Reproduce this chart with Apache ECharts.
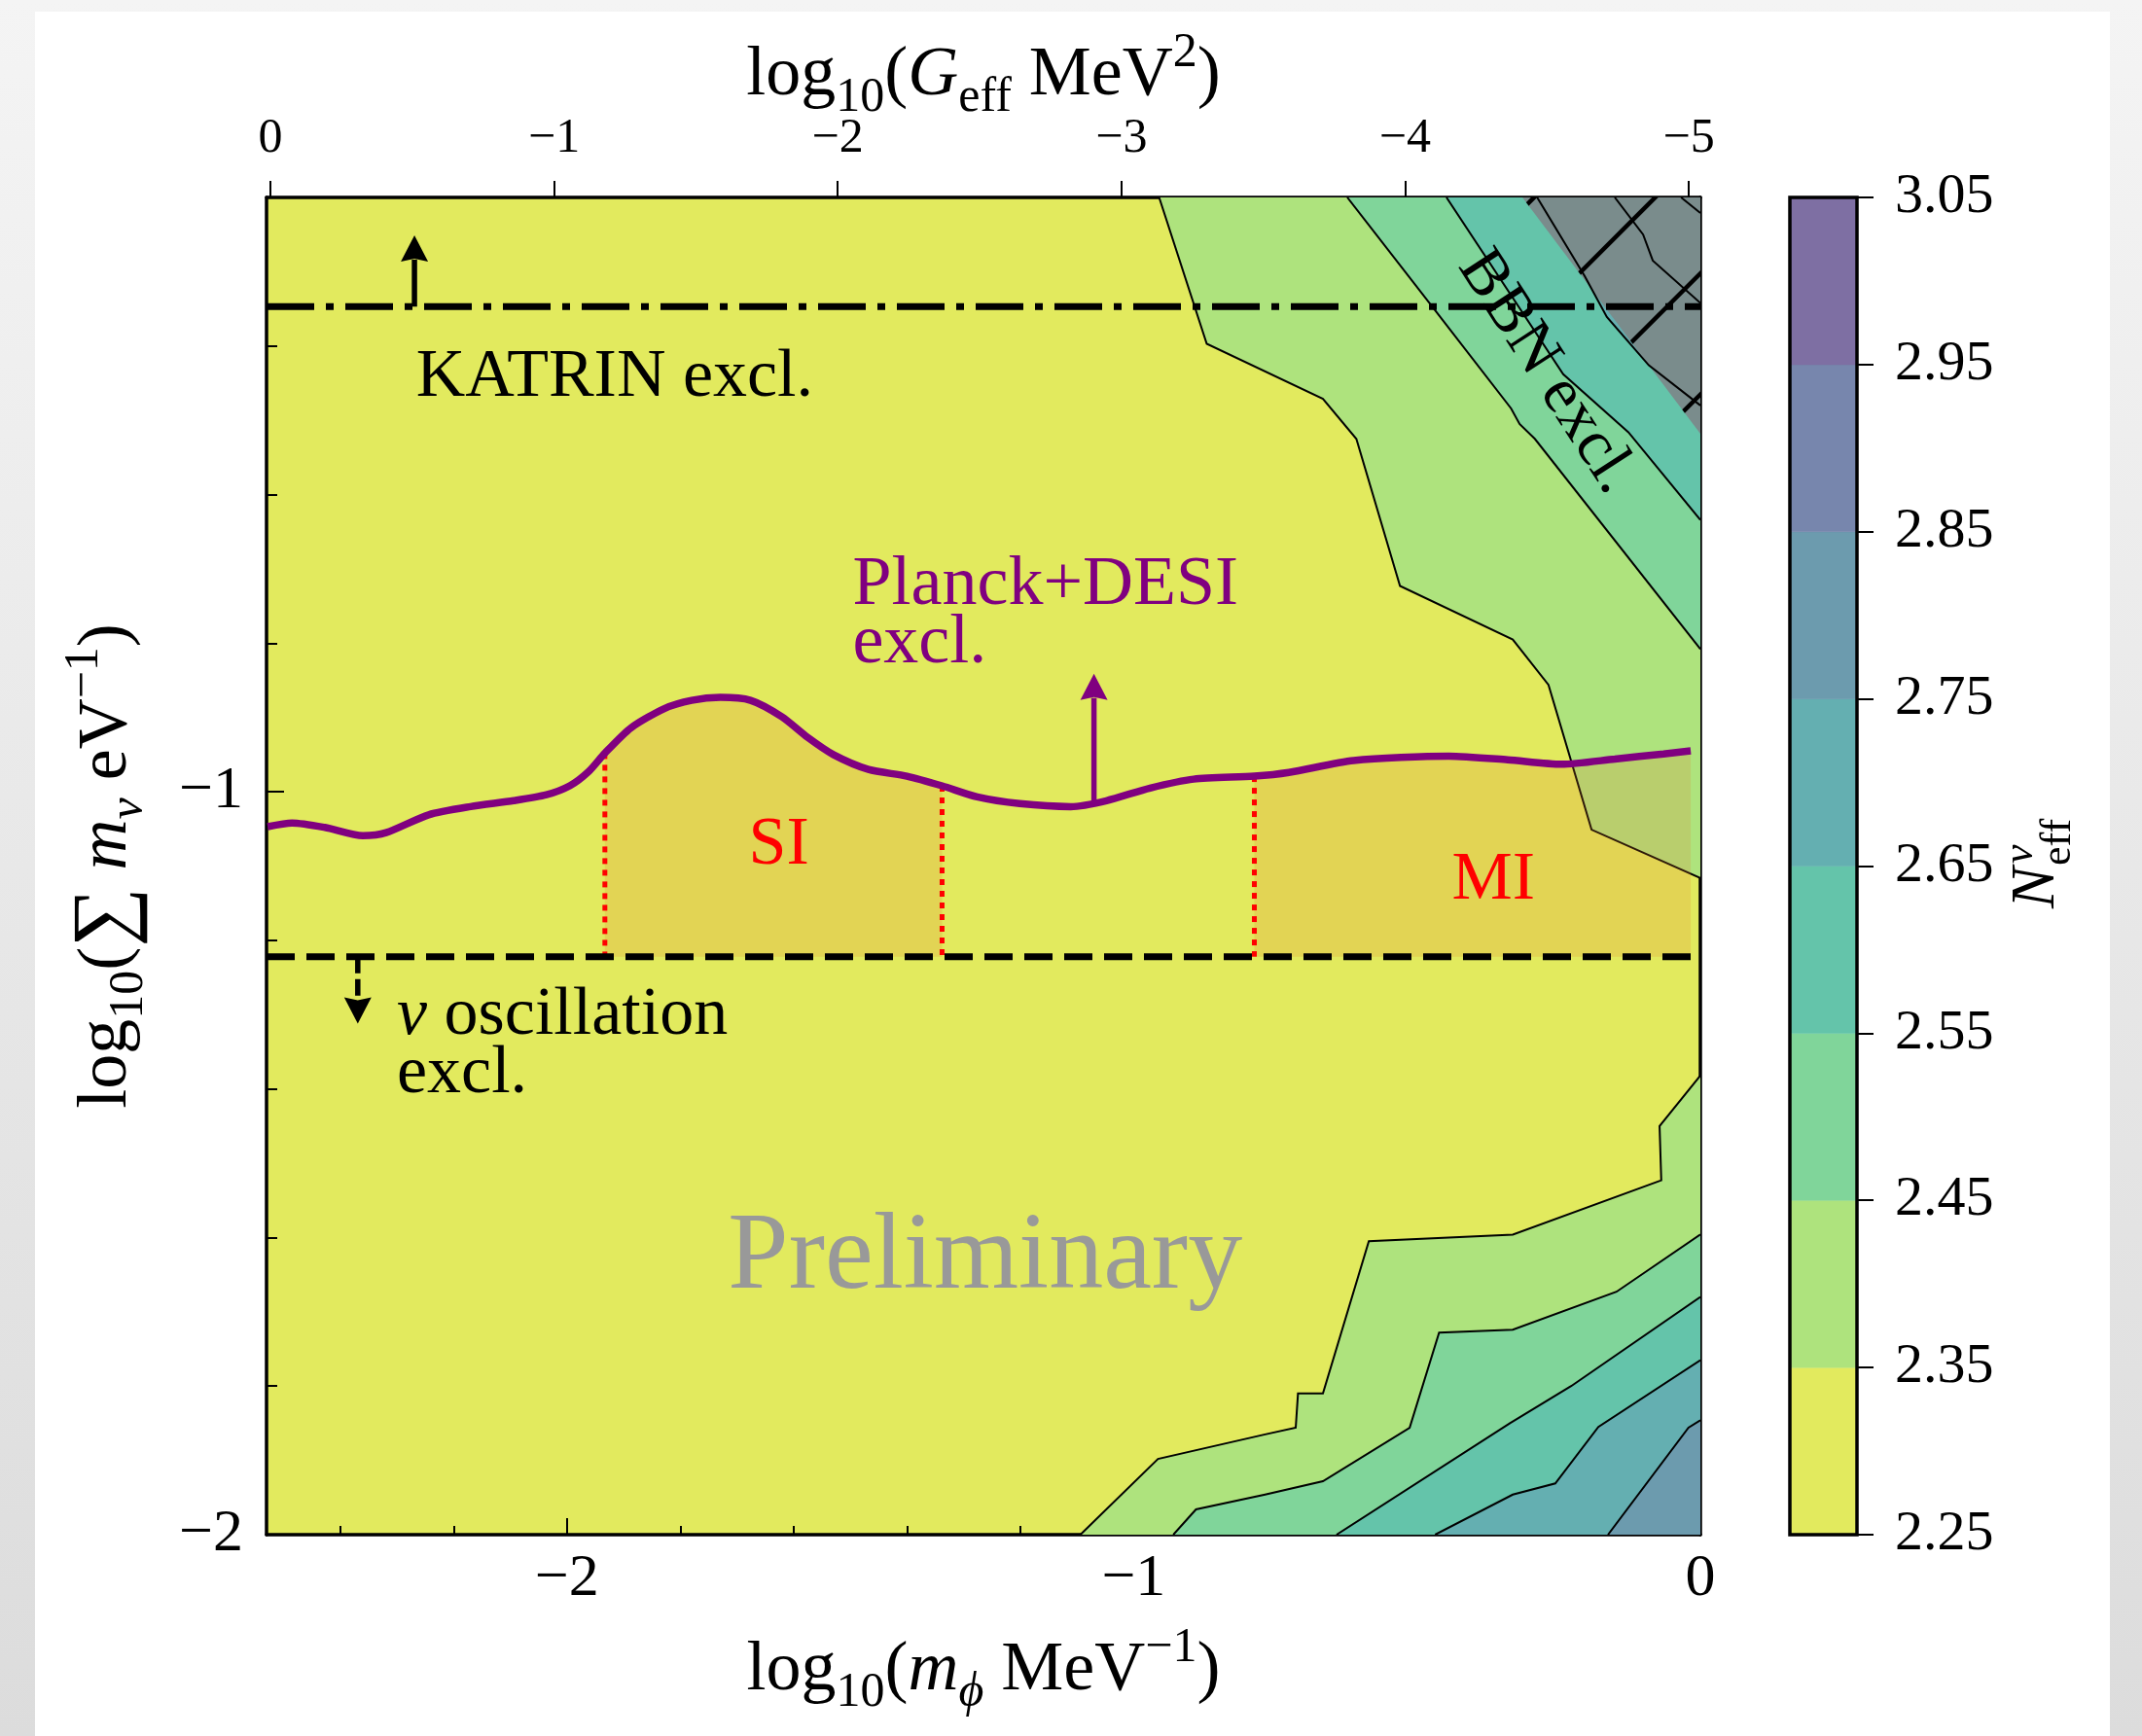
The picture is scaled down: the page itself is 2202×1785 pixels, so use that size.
<!DOCTYPE html>
<html><head><meta charset="utf-8">
<script src="https://cdn.jsdelivr.net/npm/echarts@6/dist/echarts.min.js"></script>
<style>
html,body{margin:0;padding:0;}
body{width:2202px;height:1785px;background:linear-gradient(#f4f4f4,#dcdcdc);position:relative;overflow:hidden;}
#card{position:absolute;left:36px;top:12px;width:2133px;height:1773px;background:#fff;}
#c{position:absolute;left:0;top:0;width:2202px;height:1785px;}
</style>
</head><body><div id="card"></div><div id="c"></div>
<script>
// ---------- axis ranges & ticks ----------
const xRange = [-2.53, 0];          // log10(m_phi / MeV)
const yRange = [-2, -0.2];          // log10(sum m_nu / eV)
const gRange = [-5.041, 0.0137];    // log10(G_eff MeV^2), top axis
const xMajorTicks = [-2, -1, 0];
const xMinorTicks = [-2.4, -2.2, -1.8, -1.6, -1.4, -1.2, -0.8, -0.6, -0.4, -0.2];
const yMajorTicks = [-2, -1];
const yMinorTicks = [-1.8, -1.6, -1.4, -1.2, -0.8, -0.6, -0.4];
const gTicks = [0, -1, -2, -3, -4, -5];
const levelBounds = [2.25, 2.35, 2.45, 2.55, 2.65, 2.75, 2.85, 2.95, 3.05];
const levelColors = ['#e2ea5e', '#aee37d', '#80d59a', '#64c4aa', '#64afb1', '#6c9bae', '#7786ad', '#7e6fa3'];

// ---------- contour boundaries [log10 m_phi, log10 sum m_nu] ----------
const topA = [[-0.955,-0.2],[-0.871,-0.397],[-0.666,-0.471],[-0.607,-0.525],[-0.530,-0.723],[-0.331,-0.795],[-0.268,-0.856],[-0.192,-1.051],[0,-1.116]];
const topB = [[-0.623,-0.2],[-0.468,-0.352],[-0.334,-0.484],[-0.319,-0.505],[-0.292,-0.525],[0,-0.808]];
const topC = [[-0.448,-0.2],[-0.242,-0.438],[-0.127,-0.516],[0,-0.634]];
const topD = [[-0.288,-0.2],[-0.204,-0.306],[-0.165,-0.361],[-0.091,-0.426],[0,-0.480]];
const topE = [[-0.151,-0.2],[-0.101,-0.250],[-0.084,-0.285],[0,-0.342]];
const topF = [[-0.034,-0.2],[0,-0.221]];
const botA = [[-1.094,-2],[-0.957,-1.898],[-0.768,-1.865],[-0.714,-1.856],[-0.710,-1.810],[-0.666,-1.810],[-0.585,-1.605],[-0.331,-1.596],[-0.069,-1.523],[-0.072,-1.450],[0,-1.382]];
const botB = [[-0.930,-2],[-0.890,-1.966],[-0.768,-1.946],[-0.666,-1.928],[-0.513,-1.856],[-0.461,-1.728],[-0.331,-1.724],[-0.148,-1.673],[0,-1.596]];
const botC = [[-0.642,-2],[-0.336,-1.850],[-0.228,-1.800],[0,-1.680]];
const botD = [[-0.468,-2],[-0.331,-1.946],[-0.256,-1.931],[-0.180,-1.855],[0,-1.765]];
const botE = [[-0.163,-2],[-0.021,-1.856],[0,-1.846]];
const bbnEdge = [[-0.314,-0.2],[0,-0.518]];

// ---------- limits ----------
const katrinY = -0.347;
const oscY = -1.222;
const planck = [[-2.528,-1.047],[-2.485,-1.042],[-2.427,-1.048],[-2.360,-1.059],[-2.319,-1.055],[-2.244,-1.031],[-2.170,-1.020],[-2.094,-1.012],[-2.036,-1.004],[-1.995,-0.992],[-1.962,-0.973],[-1.933,-0.948],[-1.887,-0.914],[-1.828,-0.888],[-1.780,-0.877],[-1.729,-0.873],[-1.676,-0.877],[-1.621,-0.899],[-1.575,-0.927],[-1.530,-0.950],[-1.468,-0.970],[-1.400,-0.979],[-1.338,-0.992],[-1.276,-1.007],[-1.201,-1.016],[-1.111,-1.020],[-1.048,-1.012],[-0.971,-0.995],[-0.894,-0.983],[-0.787,-0.979],[-0.726,-0.974],[-0.612,-0.958],[-0.444,-0.952],[-0.340,-0.957],[-0.245,-0.963],[-0.151,-0.956],[-0.065,-0.949],[-0.017,-0.945]];
const siRange = [-1.933, -1.338];
const miRange = [-0.787, -0.017];
const arrowX = [-2.269, -2.369, -1.070];
const arrowFrom = [-0.347, -1.222, -1.012];
const arrowTo = [-0.251, -1.312, -0.841];

// ---------- annotations ----------
const annText = ['KATRIN excl.', '{i|ν} oscillation', 'excl.', 'Planck+DESI', 'excl.', 'SI', 'MI', 'Preliminary', 'BBN excl.'];
const annX = [-2.266, -2.300, -2.300, -1.496, -1.496, -1.626, -0.365, -1.262, -0.271];
const annY = [-0.443, -1.302, -1.380, -0.723, -0.801, -1.073, -1.120, -1.629, -0.435];

// ---------- build ----------
const FF = '"Liberation Serif","DejaVu Serif",serif';
const annStyle = [
  {c:'#000', s:70, a:'left', r:0}, {c:'#000', s:70, a:'left', r:0}, {c:'#000', s:70, a:'left', r:0},
  {c:'#800080', s:72, a:'left', r:0}, {c:'#800080', s:72, a:'left', r:0},
  {c:'#ff0000', s:70, a:'center', r:0}, {c:'#ff0000', s:70, a:'center', r:0},
  {c:'#999999', s:112, a:'center', r:0}, {c:'#000', s:67, a:'center', r:-57*Math.PI/180}
];
const cornerTop = [xRange[1], yRange[1]];
const cornerBot = [xRange[1], yRange[0]];
const contourParts = [
  {lv:1, pts:topA, c:cornerTop}, {lv:1, pts:botA, c:cornerBot},
  {lv:2, pts:topB, c:cornerTop}, {lv:2, pts:botB, c:cornerBot},
  {lv:3, pts:topC, c:cornerTop}, {lv:3, pts:botC, c:cornerBot},
  {lv:4, pts:topD, c:cornerTop}, {lv:4, pts:botD, c:cornerBot},
  {lv:5, pts:topE, c:cornerTop}, {lv:5, pts:botE, c:cornerBot},
  {lv:6, pts:topF, c:cornerTop}
];
function bandPoly(r) {
  const pts = planck.filter(p => p[0] >= r[0] - 1e-9 && p[0] <= r[1] + 1e-9);
  return pts.concat([[r[1], oscY], [r[0], oscY]]);
}
const bands = [bandPoly(siRange), bandPoly(miRange)];
const dotX = [siRange[0], siRange[1], miRange[0]];
const yAt = x => planck.find(p => Math.abs(p[0] - x) < 1e-9)[1];
const fmt = v => (v < 0 ? '\u2212' + String(Math.abs(v)) : String(v));

const nameRich = {
  r: {fontSize: 72, fontFamily: FF, lineHeight: 96, color: '#000'},
  big: {fontSize: 86, fontFamily: FF, lineHeight: 96, color: '#000'},
  i: {fontSize: 72, fontFamily: FF, fontStyle: 'italic', lineHeight: 96, color: '#000'},
  sub: {fontSize: 50, fontFamily: FF, lineHeight: 50, verticalAlign: 'bottom', color: '#000'},
  isub: {fontSize: 50, fontFamily: FF, fontStyle: 'italic', lineHeight: 50, verticalAlign: 'bottom', color: '#000'},
  sup: {fontSize: 50, fontFamily: FF, lineHeight: 50, verticalAlign: 'top', color: '#000'}
};
const annRich = {i: {fontStyle: 'italic', fontSize: 70, fontFamily: FF, fill: '#000'}};

const axLine = {show: true, onZero: false, lineStyle: {color: '#000', width: 3.5}};
const noLine = {show: false, onZero: false};

const option = {
  animation: false,
  textStyle: {fontFamily: FF},
  grid: [
    {left: 274, top: 203, width: 1474, height: 1375, show: true, backgroundColor: levelColors[0], borderWidth: 0},
    {left: 1840, top: 203, width: 69, height: 1375, show: false}
  ],
  xAxis: [
    {type: 'value', gridIndex: 0, position: 'bottom', min: xRange[0], max: xRange[1],
     axisLine: axLine, splitLine: {show: false},
     axisTick: {show: true, inside: true, length: 17, customValues: xMajorTicks, lineStyle: {color: '#000', width: 2}},
     axisLabel: {show: true, customValues: xMajorTicks, formatter: fmt, fontSize: 62, color: '#000', margin: 15, fontFamily: FF},
     name: '{r|log}{sub|10}{r|(}{i|m}{isub|ϕ}{r| MeV}{sup|\u22121}{r|)}', nameLocation: 'middle', nameGap: 92, nameMoveOverlap: false,
     nameTextStyle: {rich: nameRich}},
    {type: 'value', gridIndex: 0, position: 'bottom', min: xRange[0], max: xRange[1],
     axisLine: noLine, splitLine: {show: false}, axisLabel: {show: false},
     axisTick: {show: true, inside: true, length: 9, customValues: xMinorTicks, lineStyle: {color: '#000', width: 2}}},
    {type: 'value', gridIndex: 0, position: 'top', min: gRange[0], max: gRange[1], inverse: true,
     axisLine: axLine, splitLine: {show: false},
     axisTick: {show: true, inside: false, length: 17, customValues: gTicks, lineStyle: {color: '#000', width: 2}},
     axisLabel: {show: true, customValues: gTicks, formatter: fmt, fontSize: 50, color: '#000', margin: 35, fontFamily: FF},
     name: '{r|log}{sub|10}{r|(}{i|G}{sub|eff}{r| MeV}{sup|2}{r|)}', nameLocation: 'middle', nameGap: 77, nameMoveOverlap: false,
     nameTextStyle: {rich: nameRich}},
    {type: 'value', gridIndex: 1, min: 0, max: 1, show: false}
  ],
  yAxis: [
    {type: 'value', gridIndex: 0, position: 'left', min: yRange[0], max: yRange[1],
     axisLine: axLine, splitLine: {show: false},
     axisTick: {show: true, inside: true, length: 18, customValues: yMajorTicks, lineStyle: {color: '#000', width: 2}},
     axisLabel: {show: true, customValues: yMajorTicks, formatter: fmt, fontSize: 62, color: '#000', margin: 24, fontFamily: FF},
     name: '{r|log}{sub|10}{r|(}{big|∑}{r| }{i|m}{isub|ν}{r| eV}{sup|\u22121}{r|)}', nameLocation: 'middle', nameGap: 116, nameRotate: 90, nameMoveOverlap: false,
     nameTextStyle: {rich: nameRich}},
    {type: 'value', gridIndex: 0, position: 'left', min: yRange[0], max: yRange[1],
     axisLine: noLine, splitLine: {show: false}, axisLabel: {show: false},
     axisTick: {show: true, inside: true, length: 11, customValues: yMinorTicks, lineStyle: {color: '#000', width: 2}}},
    {type: 'value', gridIndex: 0, position: 'right', min: yRange[0], max: yRange[1],
     axisLine: axLine, splitLine: {show: false}, axisLabel: {show: false}, axisTick: {show: false}},
    {type: 'value', gridIndex: 1, position: 'right', min: levelBounds[0], max: levelBounds[levelBounds.length - 1],
     axisLine: noLine, splitLine: {show: false},
     axisTick: {show: true, inside: false, length: 17, customValues: levelBounds, lineStyle: {color: '#000', width: 2}},
     axisLabel: {show: true, customValues: levelBounds, formatter: v => v.toFixed(2), fontSize: 58, color: '#000', margin: 39, fontFamily: FF}}
  ],
  graphic: [{
    type: 'group', x: 2094, y: 934, rotation: Math.PI / 2,
    children: [
      {type: 'text', x: 0, y: 0, style: {text: 'N', font: 'italic 64px ' + FF, fill: '#000', align: 'left', verticalAlign: 'middle'}},
      {type: 'text', x: 46, y: -17, style: {text: 'ν', font: 'italic 44px ' + FF, fill: '#000', align: 'left', verticalAlign: 'middle'}},
      {type: 'text', x: 44, y: 22, style: {text: 'eff', font: '44px ' + FF, fill: '#000', align: 'left', verticalAlign: 'middle'}}
    ]
  }],
  series: [
    { // contour fills
      type: 'custom', xAxisIndex: 0, yAxisIndex: 0, clip: true,
      data: contourParts.map(c => c.pts[0]),
      renderItem: (params, api) => {
        const c = contourParts[params.dataIndex];
        const pts = c.pts.concat([c.c]).map(p => api.coord(p));
        return {type: 'polygon', shape: {points: pts}, style: {fill: levelColors[c.lv], stroke: levelColors[c.lv], lineWidth: 0.5}};
      }
    },
    { // BBN exclusion grey
      type: 'custom', xAxisIndex: 0, yAxisIndex: 0, clip: true,
      data: [bbnEdge[0]],
      renderItem: (params, api) => {
        const pts = [bbnEdge[0], bbnEdge[1], cornerTop].map(p => api.coord(p));
        return {type: 'polygon', shape: {points: pts}, style: {fill: '#7a8c8c'}};
      }
    },
    { // contour lines
      type: 'custom', xAxisIndex: 0, yAxisIndex: 0, clip: true,
      data: contourParts.map(c => c.pts[0]),
      renderItem: (params, api) => {
        const c = contourParts[params.dataIndex];
        return {type: 'polyline', shape: {points: c.pts.map(p => api.coord(p))}, style: {stroke: '#000', lineWidth: 2, fill: 'none'}};
      }
    },
    { // BBN hatch
      type: 'custom', xAxisIndex: 0, yAxisIndex: 0, clip: true,
      data: [bbnEdge[0]],
      renderItem: (params, api) => {
        const pts = [bbnEdge[0], bbnEdge[1], cornerTop].map(p => api.coord(p));
        const xs = pts.map(p => p[0]);
        const x0 = Math.min(...xs) - 20, x1 = Math.max(...xs) + 20;
        const c0 = pts[0][0] + pts[0][1] + 12;
        const lines = [];
        for (let k = 0; k < 8; k++) {
          const c = c0 + k * 124.5;
          lines.push({type: 'line', shape: {x1: x0, y1: c - x0, x2: x1, y2: c - x1}, style: {stroke: '#000', lineWidth: 4.5}});
        }
        return {type: 'group', clipPath: {type: 'polygon', shape: {points: pts}}, children: lines};
      }
    },
    { // SI / MI bands
      type: 'custom', xAxisIndex: 0, yAxisIndex: 0, clip: true,
      data: bands.map(b => b[0]),
      renderItem: (params, api) => ({type: 'polygon', shape: {points: bands[params.dataIndex].map(p => api.coord(p))}, style: {fill: 'rgba(232,124,45,0.2)'}})
    },
    { // red dotted boundaries
      type: 'custom', xAxisIndex: 0, yAxisIndex: 0, clip: true,
      data: dotX.map(x => [x, oscY]),
      renderItem: (params, api) => {
        const x = dotX[params.dataIndex];
        const a = api.coord([x, yAt(x)]), b = api.coord([x, oscY]);
        return {type: 'line', shape: {x1: a[0], y1: a[1], x2: b[0], y2: b[1]}, style: {stroke: '#ff0000', lineWidth: 5, lineDash: [6, 6]}};
      }
    },
    {type: 'line', xAxisIndex: 0, yAxisIndex: 0, data: [[xRange[0], katrinY], [xRange[1], katrinY]], symbol: 'none',
     lineStyle: {color: '#000', width: 7, type: [49, 12, 8, 12]}},
    {type: 'line', xAxisIndex: 0, yAxisIndex: 0, data: [[xRange[0], oscY], [xRange[1], oscY]], symbol: 'none',
     lineStyle: {color: '#000', width: 7, type: [29, 12]}},
    {type: 'line', xAxisIndex: 0, yAxisIndex: 0, data: planck, symbol: 'none', smooth: 0.25,
     lineStyle: {color: '#800080', width: 7.5}},
    { // arrows
      type: 'custom', xAxisIndex: 0, yAxisIndex: 0, clip: false,
      data: arrowX.map((x, i) => [x, arrowFrom[i]]),
      renderItem: (params, api) => {
        const i = params.dataIndex;
        const col = i === 2 ? '#800080' : '#000';
        const p0 = api.coord([arrowX[i], arrowFrom[i]]), p1 = api.coord([arrowX[i], arrowTo[i]]);
        const dir = Math.sign(p1[1] - p0[1]);
        const hl = 27, hw = 14;
        const by = p1[1] - dir * hl;
        return {type: 'group', children: [
          {type: 'line', shape: {x1: p0[0], y1: p0[1], x2: p0[0], y2: by + dir * 2}, style: {stroke: col, lineWidth: 5.5, lineDash: i === 1 ? [17, 6] : null}},
          {type: 'polygon', shape: {points: [[p1[0], p1[1]], [p1[0] - hw, by], [p1[0], by + dir * 3], [p1[0] + hw, by]]}, style: {fill: col}}
        ]};
      }
    },
    { // annotations
      type: 'custom', xAxisIndex: 0, yAxisIndex: 0, clip: false,
      data: annX.map((x, i) => [x, annY[i]]),
      renderItem: (params, api) => {
        const i = params.dataIndex, s = annStyle[i];
        const p = api.coord([annX[i], annY[i]]);
        return {type: 'text', x: p[0], y: p[1], rotation: s.r,
          style: {text: annText[i], fill: s.c, font: s.s + 'px ' + FF, align: s.a, verticalAlign: 'middle', rich: annRich}};
      }
    },
    { // colorbar cells
      type: 'custom', xAxisIndex: 3, yAxisIndex: 3, clip: false,
      data: levelColors.map((c, i) => [0.5, (levelBounds[i] + levelBounds[i + 1]) / 2]),
      renderItem: (params, api) => {
        const i = params.dataIndex;
        const a = api.coord([0, levelBounds[i]]), b = api.coord([1, levelBounds[i + 1]]);
        return {type: 'rect', shape: {x: a[0], y: b[1], width: b[0] - a[0], height: a[1] - b[1]}, style: {fill: levelColors[i], stroke: levelColors[i], lineWidth: 0.5}};
      }
    },
    { // colorbar outline
      type: 'custom', xAxisIndex: 3, yAxisIndex: 3, clip: false,
      data: [[0.5, levelBounds[0]]],
      renderItem: (params, api) => {
        const a = api.coord([0, levelBounds[0]]), b = api.coord([1, levelBounds[levelBounds.length - 1]]);
        return {type: 'rect', shape: {x: a[0], y: b[1], width: b[0] - a[0], height: a[1] - b[1]}, style: {fill: 'none', stroke: '#000', lineWidth: 3.5}};
      }
    }
  ]
};
const chart = echarts.init(document.getElementById('c'), null, {renderer: 'canvas'});
chart.setOption(option);
</script>
</body></html>
